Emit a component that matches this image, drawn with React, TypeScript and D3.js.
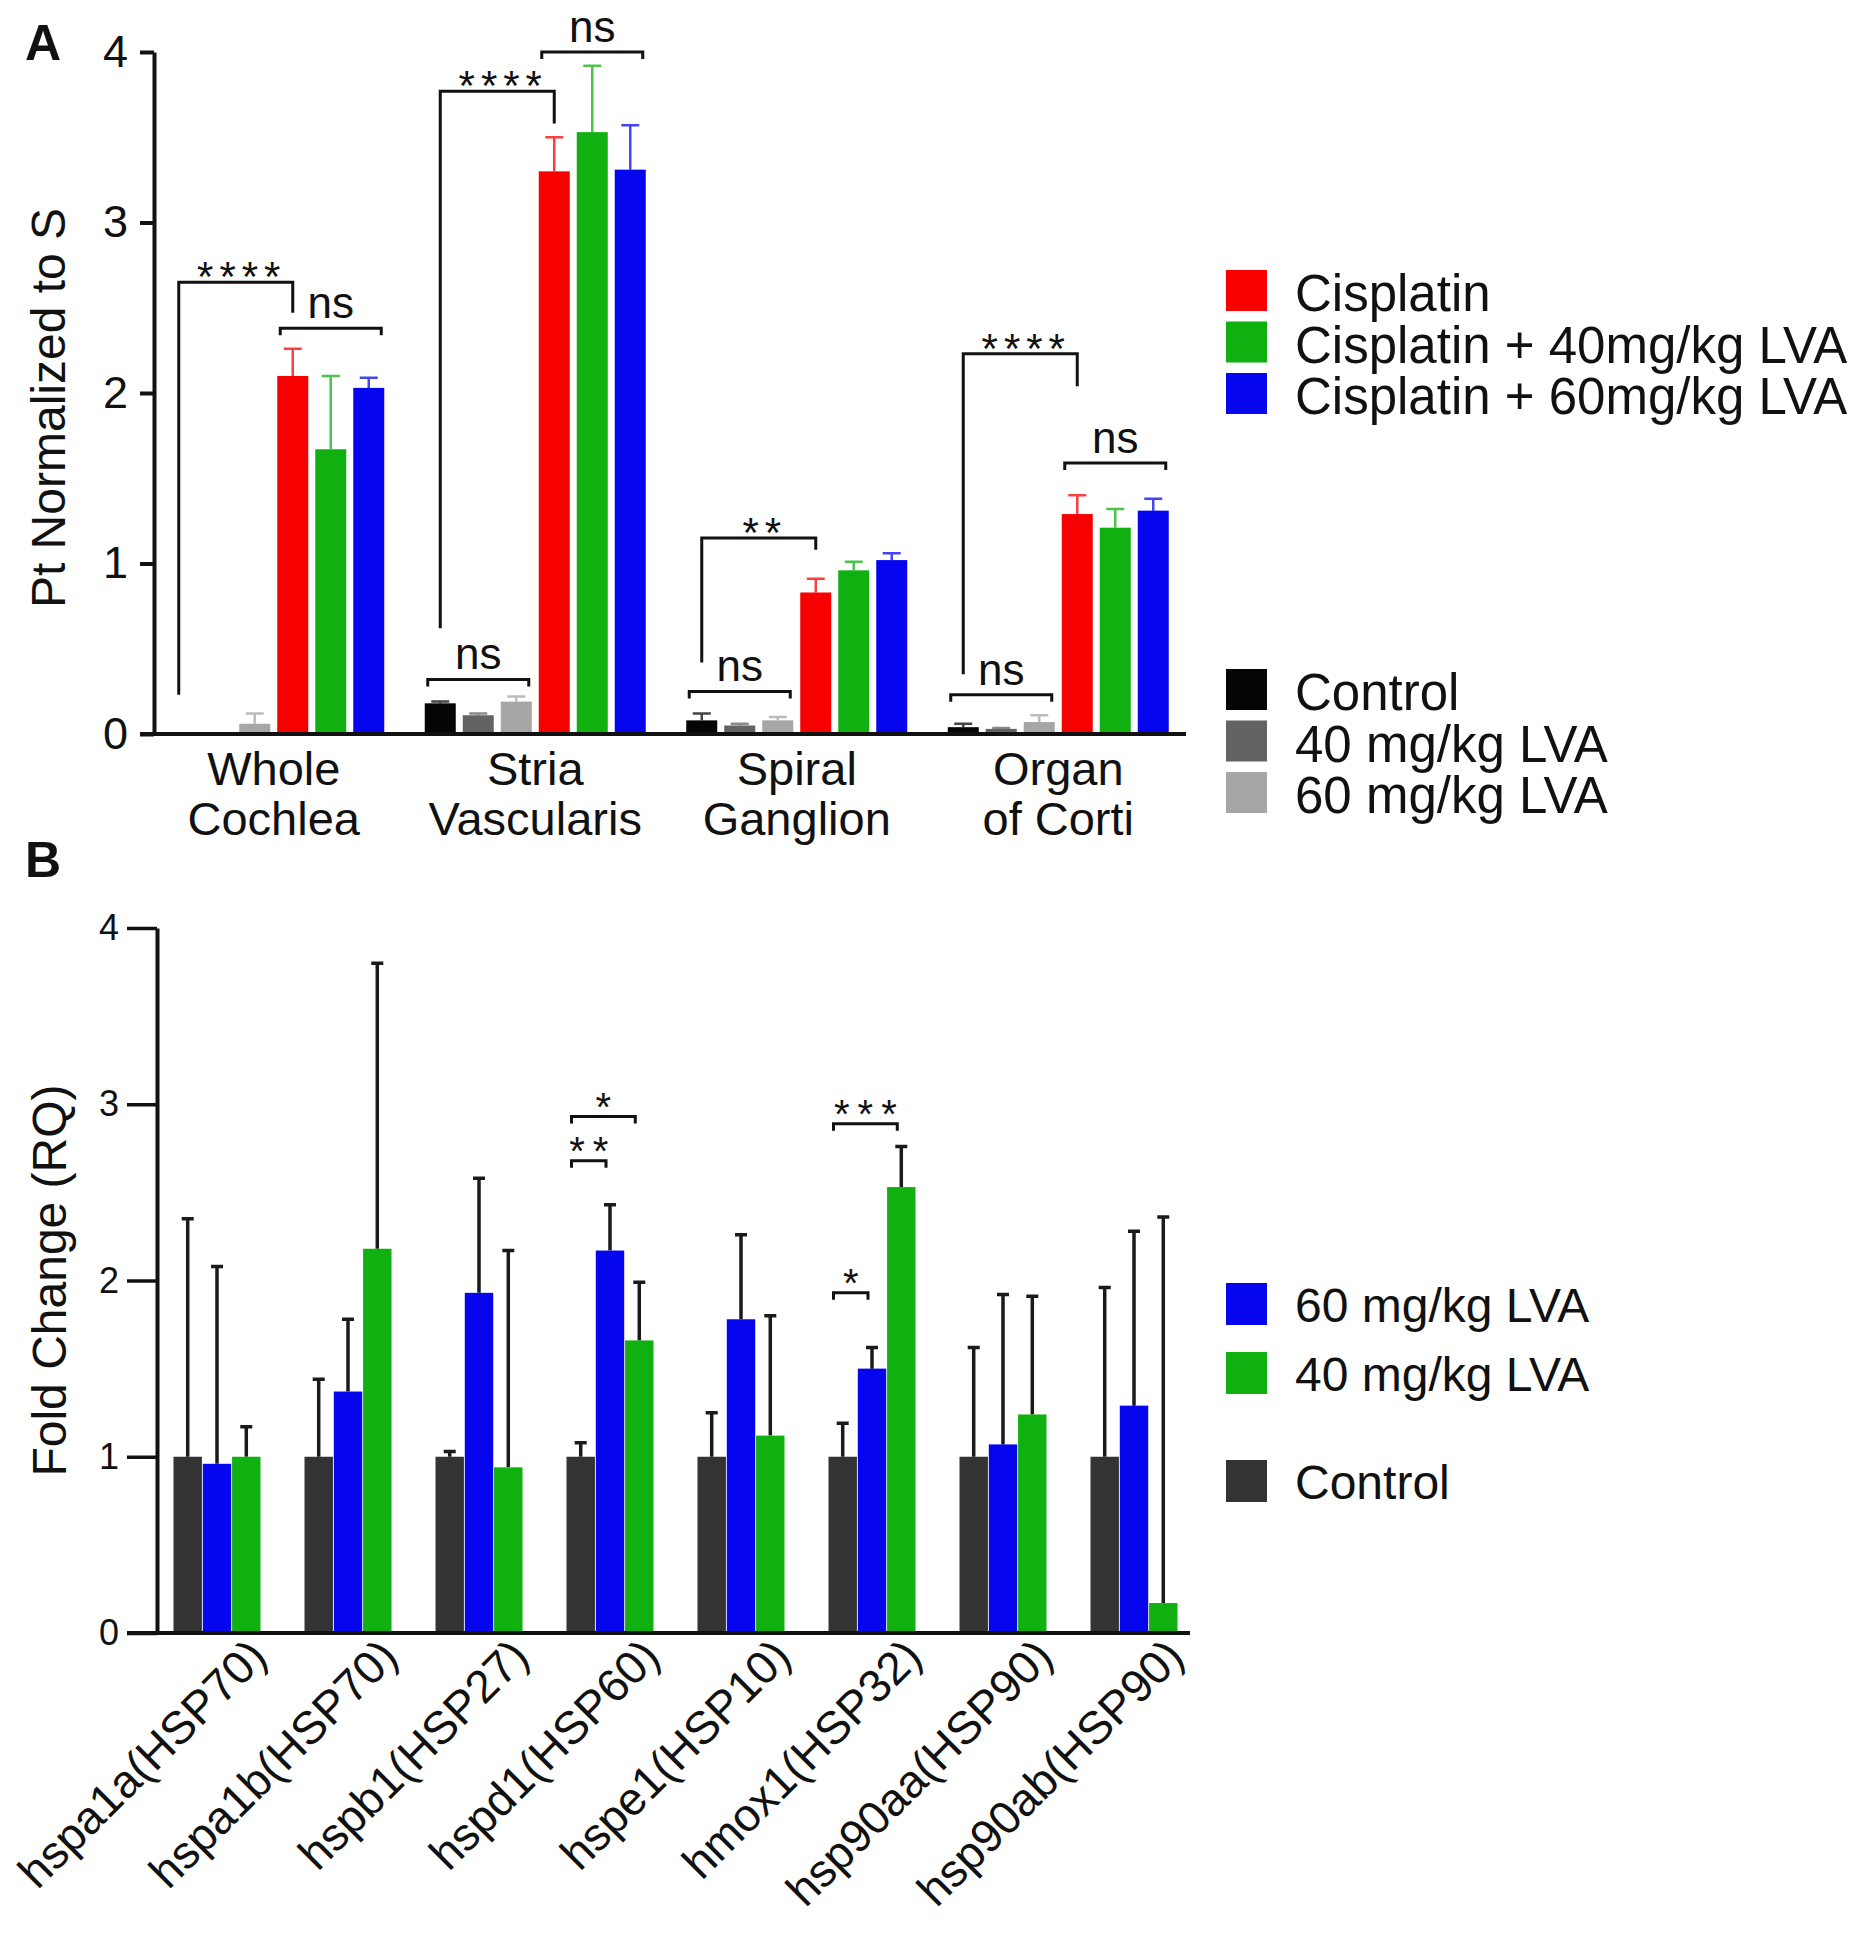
import { useRef, useEffect } from 'react'
import * as d3 from 'd3'

// Panel A: Pt in cochlear regions
const regions = ['Whole Cochlea', 'Stria Vascularis', 'Spiral Ganglion', 'Organ of Corti']
const regionLines = [['Whole', 'Cochlea'], ['Stria', 'Vascularis'], ['Spiral', 'Ganglion'], ['Organ', 'of Corti']]
const seriesA = ['Control', '40 mg/kg LVA', '60 mg/kg LVA', 'Cisplatin', 'Cisplatin + 40mg/kg LVA', 'Cisplatin + 60mg/kg LVA']
const colorsA = ['#050505', '#636363', '#a6a6a6', '#f60000', '#10b010', '#0505ee']
const controlA = [0, 0.18, 0.08, 0.04]
const controlErrA = [0, 0.01, 0.04, 0.02]
const lva40A = [0, 0.11, 0.05, 0.03]
const lva40ErrA = [0, 0.01, 0.01, 0.005]
const lva60A = [0.06, 0.19, 0.08, 0.07]
const lva60ErrA = [0.06, 0.03, 0.02, 0.04]
const cisA = [2.1, 3.3, 0.83, 1.29]
const cisErrA = [0.16, 0.2, 0.08, 0.11]
const cis40A = [1.67, 3.53, 0.96, 1.21]
const cis40ErrA = [0.43, 0.39, 0.05, 0.11]
const cis60A = [2.03, 3.31, 1.02, 1.31]
const cis60ErrA = [0.06, 0.26, 0.04, 0.07]
const ticksA = [0, 1, 2, 3, 4]

// long brackets, Control vs Cisplatin
const starsA = [
  { region: 0, label: '****', left: 0.23, top: 2.65, right: 2.47 },
  { region: 1, label: '****', left: 0.62, top: 3.77, right: 3.58 },
  { region: 2, label: '**', left: 0.42, top: 1.15, right: 1.08 },
  { region: 3, label: '****', left: 0.35, top: 2.23, right: 2.04 },
]
// ns brackets over a run of bars
const nsA = [
  { region: 0, from: 3, to: 5, level: 2.38 },
  { region: 1, from: 3, to: 5, level: 4.0 },
  { region: 1, from: 0, to: 2, level: 0.32 },
  { region: 2, from: 0, to: 2, level: 0.25 },
  { region: 3, from: 0, to: 2, level: 0.23 },
  { region: 3, from: 3, to: 5, level: 1.59 },
]

// Panel B: heat shock gene expression
const genes = ['hspa1a(HSP70)', 'hspa1b(HSP70)', 'hspb1(HSP27)', 'hspd1(HSP60)', 'hspe1(HSP10)', 'hmox1(HSP32)', 'hsp90aa(HSP90)', 'hsp90ab(HSP90)']
const seriesB = ['Control', '60 mg/kg LVA', '40 mg/kg LVA']
const colorsB = ['#333333', '#0505ee', '#10b010']
const controlB = [1, 1, 1, 1, 1, 1, 1, 1]
const controlErrB = [1.35, 0.44, 0.03, 0.08, 0.25, 0.19, 0.62, 0.96]
const lva60B = [0.96, 1.37, 1.93, 2.17, 1.78, 1.5, 1.07, 1.29]
const lva60ErrB = [1.12, 0.41, 0.65, 0.26, 0.48, 0.12, 0.85, 0.99]
const lva40B = [1.0, 2.18, 0.94, 1.66, 1.12, 2.53, 1.24, 0.17]
const lva40ErrB = [0.17, 1.62, 1.23, 0.33, 0.68, 0.23, 0.67, 2.19]
const ticksB = [0, 1, 2, 3, 4]
const sigB = [
  { gene: 3, from: 0, to: 1, level: 2.68, label: '**' },
  { gene: 3, from: 0, to: 2, level: 2.93, label: '*' },
  { gene: 5, from: 0, to: 1, level: 1.93, label: '*' },
  { gene: 5, from: 0, to: 2, level: 2.89, label: '***' },
]

const FONT = 'Liberation Sans, Arial, Helvetica, sans-serif'
const INK = '#111'

export default function App() {
  const svgRef = useRef<SVGSVGElement>(null)

  useEffect(() => {
    if (!svgRef.current) return
    const svg = d3.select(svgRef.current)
    svg.selectAll('*').remove()
    svg.attr('font-family', FONT)

    // ---------------- Panel A ----------------
    const meansA = [controlA, lva40A, lva60A, cisA, cis40A, cis60A]
    const errsA = [controlErrA, lva40ErrA, lva60ErrA, cisErrA, cis40ErrA, cis60ErrA]
    const yA = d3.scaleLinear().domain([0, 4]).range([734, 52])
    const xA = d3.scaleBand<string>().domain(regions).range([143, 1189])
    const sA = d3.scaleBand<string>().domain(seriesA).range([-114, 114]).paddingInner(0.184).paddingOuter(0.092)
    const cA = (ri: number) => xA(regions[ri])! + xA.bandwidth() / 2
    const barX = (ri: number, si: number) => cA(ri) + sA(seriesA[si])!
    const barMid = (ri: number, si: number) => barX(ri, si) + sA.bandwidth() / 2

    const rowsA = regions.flatMap((_, ri) =>
      seriesA.map((_, si) => ({ ri, si, v: meansA[si][ri], e: errsA[si][ri] })),
    )

    const gA = svg.append('g')

    // error bars first (upper only)
    gA.selectAll('.errA')
      .data(rowsA.filter((d) => d.e > 0))
      .enter()
      .append('path')
      .attr('d', (d) => {
        const x = barMid(d.ri, d.si)
        const yt = yA(d.v + d.e)
        return `M${x},${yA(d.v)}V${yt}M${x - 9},${yt}H${x + 9}`
      })
      .attr('fill', 'none')
      .attr('stroke', (d) => colorsA[d.si])
      .attr('stroke-opacity', 0.75)
      .attr('stroke-width', 2.5)

    gA.selectAll('.barA')
      .data(rowsA.filter((d) => d.v > 0))
      .enter()
      .append('rect')
      .attr('x', (d) => barX(d.ri, d.si))
      .attr('width', sA.bandwidth())
      .attr('y', (d) => yA(d.v))
      .attr('height', (d) => yA(0) - yA(d.v))
      .attr('fill', (d) => colorsA[d.si])

    // axes
    const axA = svg
      .append('g')
      .attr('transform', 'translate(154,0)')
      .call(
        d3
          .axisLeft(yA)
          .tickValues(ticksA)
          .tickSize(14)
          .tickSizeOuter(0)
          .tickPadding(12)
          .tickFormat(d3.format('d')),
      )
    axA.attr('font-size', 45).attr('font-family', FONT)
    axA.select('.domain').attr('stroke', INK).attr('stroke-width', 4)
    axA.selectAll('.tick line').attr('stroke', INK).attr('stroke-width', 4)
    axA.selectAll('.tick text').attr('fill', INK)

    svg.append('line')
      .attr('x1', 140).attr('x2', 1186)
      .attr('y1', yA(0)).attr('y2', yA(0))
      .attr('stroke', INK).attr('stroke-width', 4)

    // region labels
    regionLines.forEach((lines, ri) => {
      const t = svg.append('text')
        .attr('text-anchor', 'middle')
        .attr('font-size', 47)
        .attr('fill', INK)
      lines.forEach((ln, li) => {
        t.append('tspan').attr('x', cA(ri)).attr('y', 785 + li * 50).text(ln)
      })
    })

    svg.append('text')
      .attr('transform', `translate(65,${(yA(0) + yA(4)) / 2 + 15}) rotate(-90)`)
      .attr('text-anchor', 'middle')
      .attr('font-size', 48)
      .attr('fill', INK)
      .text('Pt Normalized to S')

    svg.append('text')
      .attr('x', 25).attr('y', 60)
      .attr('font-size', 50).attr('font-weight', 'bold')
      .attr('fill', INK)
      .text('A')

    // significance brackets
    starsA.forEach((b) => {
      const xl = barMid(b.region, 0)
      const xr = barMid(b.region, 3)
      svg.append('path')
        .attr('d', `M${xl},${yA(b.left)}V${yA(b.top)}H${xr}V${yA(b.right)}`)
        .attr('fill', 'none').attr('stroke', INK).attr('stroke-width', 3)
      svg.append('text')
        .attr('x', (xl + xr) / 2 + 6).attr('y', yA(b.top) + 9)
        .attr('text-anchor', 'middle')
        .attr('font-size', 42).attr('letter-spacing', 6)
        .attr('fill', INK)
        .text(b.label)
    })

    nsA.forEach((b) => {
      const xl = barX(b.region, b.from) + 3
      const xr = barX(b.region, b.to) + sA.bandwidth() - 3
      const y = yA(b.level)
      svg.append('path')
        .attr('d', `M${xl},${y + 7}V${y}H${xr}V${y + 7}`)
        .attr('fill', 'none').attr('stroke', INK).attr('stroke-width', 3)
      svg.append('text')
        .attr('x', (xl + xr) / 2).attr('y', y - 10)
        .attr('text-anchor', 'middle')
        .attr('font-size', 44)
        .attr('fill', INK)
        .text('ns')
    })

    // legend A
    const legTop = [3, 4, 5]
    const legBottom = [0, 1, 2]
    const drawLegA = (idx: number[], y0: number) => {
      idx.forEach((si, k) => {
        const y = y0 + k * 51.5
        svg.append('rect')
          .attr('x', 1226).attr('y', y).attr('width', 41).attr('height', 41)
          .attr('fill', colorsA[si])
        svg.append('text')
          .attr('x', 1295).attr('y', y + 41)
          .attr('font-size', 51).attr('fill', INK)
          .text(seriesA[si])
      })
    }
    drawLegA(legTop, 270)
    drawLegA(legBottom, 669)

    // ---------------- Panel B ----------------
    const meansB = [controlB, lva60B, lva40B]
    const errsB = [controlErrB, lva60ErrB, lva40ErrB]
    const yB = d3.scaleLinear().domain([0, 4]).range([1633, 928])
    const xB = d3.scaleBand<string>().domain(genes).range([151.5, 1199.5])
    const sB = d3.scaleBand<string>().domain(seriesB).range([-43.5, 43.5]).paddingInner(0.03)
    const cB = (gi: number) => xB(genes[gi])! + xB.bandwidth() / 2
    const bX = (gi: number, si: number) => cB(gi) + sB(seriesB[si])!
    const bMid = (gi: number, si: number) => bX(gi, si) + sB.bandwidth() / 2

    const rowsB = genes.flatMap((_, gi) =>
      seriesB.map((_, si) => ({ gi, si, v: meansB[si][gi], e: errsB[si][gi] })),
    )

    svg.selectAll('.errB')
      .data(rowsB)
      .enter()
      .append('path')
      .attr('d', (d) => {
        const x = bMid(d.gi, d.si)
        const yt = yB(d.v + d.e)
        return `M${x},${yB(d.v)}V${yt}M${x - 6},${yt}H${x + 6}`
      })
      .attr('fill', 'none')
      .attr('stroke', '#1a1a1a')
      .attr('stroke-width', 3.5)

    svg.selectAll('.barB')
      .data(rowsB)
      .enter()
      .append('rect')
      .attr('x', (d) => bX(d.gi, d.si))
      .attr('width', sB.bandwidth())
      .attr('y', (d) => yB(d.v))
      .attr('height', (d) => yB(0) - yB(d.v))
      .attr('fill', (d) => colorsB[d.si])

    const axB = svg
      .append('g')
      .attr('transform', 'translate(157,0)')
      .call(
        d3
          .axisLeft(yB)
          .tickValues(ticksB)
          .tickSize(30)
          .tickSizeOuter(0)
          .tickPadding(8)
          .tickFormat(d3.format('d')),
      )
    axB.attr('font-size', 36).attr('font-family', FONT)
    axB.select('.domain').attr('stroke', INK).attr('stroke-width', 4)
    axB.selectAll('.tick line').attr('stroke', INK).attr('stroke-width', 3.5)
    axB.selectAll('.tick text').attr('fill', INK)

    svg.append('line')
      .attr('x1', 127).attr('x2', 1190)
      .attr('y1', yB(0)).attr('y2', yB(0))
      .attr('stroke', INK).attr('stroke-width', 4)

    // rotated gene labels, end-anchored just right of each group
    genes.forEach((gname, gi) => {
      svg.append('text')
        .attr('transform', `translate(${cB(gi) + 52},${yB(0) + 26}) rotate(-45)`)
        .attr('text-anchor', 'end')
        .attr('font-size', 46)
        .attr('fill', INK)
        .text(gname)
    })

    svg.append('text')
      .attr('transform', `translate(66,${(yB(0) + yB(4)) / 2}) rotate(-90)`)
      .attr('text-anchor', 'middle')
      .attr('font-size', 48)
      .attr('fill', INK)
      .text('Fold Change (RQ)')

    svg.append('text')
      .attr('x', 25).attr('y', 877)
      .attr('font-size', 50).attr('font-weight', 'bold')
      .attr('fill', INK)
      .text('B')

    sigB.forEach((b) => {
      const xl = bX(b.gene, b.from) + 5
      const xr = bMid(b.gene, b.to) - 4
      const y = yB(b.level)
      svg.append('path')
        .attr('d', `M${xl},${y + 7}V${y}H${xr}V${y + 7}`)
        .attr('fill', 'none').attr('stroke', INK).attr('stroke-width', 3)
      svg.append('text')
        .attr('x', (xl + xr) / 2 + 4).attr('y', y + 4)
        .attr('text-anchor', 'middle')
        .attr('font-size', 40).attr('letter-spacing', 8)
        .attr('fill', INK)
        .text(b.label)
    })

    // legend B
    const legB = [
      { si: 1, y: 1283 },
      { si: 2, y: 1352 },
      { si: 0, y: 1460 },
    ]
    legB.forEach((l) => {
      svg.append('rect')
        .attr('x', 1226).attr('y', l.y).attr('width', 41).attr('height', 42)
        .attr('fill', colorsB[l.si])
      svg.append('text')
        .attr('x', 1295).attr('y', l.y + 39)
        .attr('font-size', 48).attr('fill', INK)
        .text(seriesB[l.si])
    })
  }, [])

  return (
    <div style={{ position: 'absolute', left: 0, top: 0, background: '#fff' }}>
      <svg ref={svgRef} width={1870} height={1950} style={{ display: 'block' }} />
    </div>
  )
}
